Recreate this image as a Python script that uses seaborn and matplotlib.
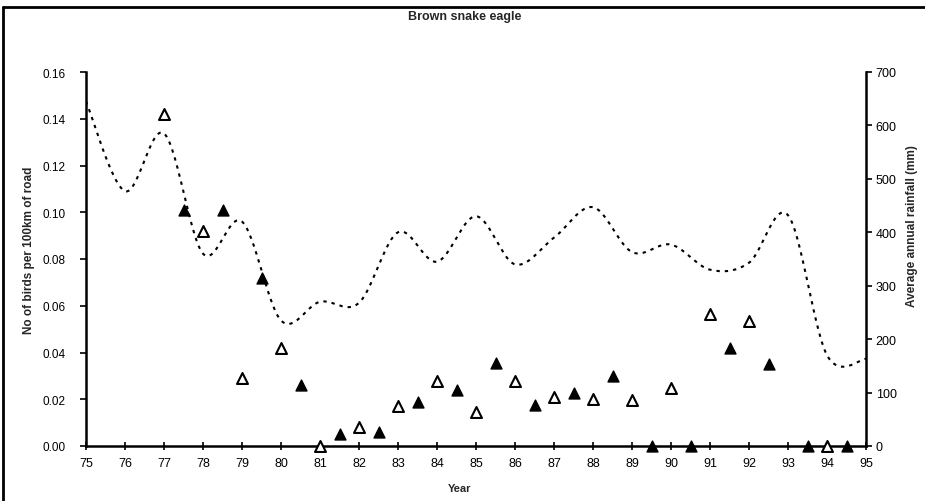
import numpy as np
import matplotlib
matplotlib.use("Agg")
import matplotlib.pyplot as plt
import seaborn as sns
from matplotlib.lines import Line2D

# ---- data ----
rain_years = [75, 76, 77, 78, 79, 80, 81, 82, 83, 84, 85, 86, 87, 88, 89, 90, 91, 92, 93, 94, 95]
rain_mm = [645, 477, 585, 360, 420, 235, 270, 268, 400, 345, 430, 340, 390, 447, 363, 377, 330, 343, 432, 170, 163]

open_years = [77, 78, 79, 80, 81, 82, 83, 84, 85, 86, 87, 88, 89, 90, 91, 92, 94]
open_vals = [0.142, 0.092, 0.029, 0.042, 0.0, 0.008, 0.017, 0.028, 0.0145, 0.028, 0.021,
             0.020, 0.0197, 0.0248, 0.0565, 0.0535, 0.0]

filled_years = [77.5, 78.5, 79.5, 80.5, 81.5, 82.5, 83.5, 84.5, 85.5, 86.5, 87.5, 88.5,
                89.5, 90.5, 91.5, 92.5, 93.5, 94.5]
filled_vals = [0.101, 0.101, 0.072, 0.026, 0.005, 0.006, 0.019, 0.024, 0.0355, 0.0175,
               0.0227, 0.030, 0.0, 0.0, 0.042, 0.035, 0.0, 0.0]

x_ticks = list(range(75, 96))
left_ticks = [0.00, 0.02, 0.04, 0.06, 0.08, 0.10, 0.12, 0.14, 0.16]
right_ticks = [0, 100, 200, 300, 400, 500, 600, 700]


def smooth_line(xs, ys, n=30):
    """Excel-style smoothed line (Bezier through points, tension 1/6)."""
    P = np.column_stack([xs, ys]).astype(float)
    ext = np.vstack([P[0], P, P[-1]])
    out = []
    t = np.linspace(0, 1, n)[:, None]
    for i in range(1, len(ext) - 2):
        p0, p1, p2, p3 = ext[i - 1], ext[i], ext[i + 1], ext[i + 2]
        c1 = p1 + (p2 - p0) / 6.0
        c2 = p2 - (p3 - p1) / 6.0
        seg = ((1 - t) ** 3) * p1 + 3 * ((1 - t) ** 2) * t * c1 + 3 * (1 - t) * t ** 2 * c2 + t ** 3 * p2
        out.append(seg if i == 1 else seg[1:])
    arr = np.vstack(out)
    return arr[:, 0], arr[:, 1]


sns.set_theme(style="white")
plt.rcParams['font.family'] = ['Liberation Sans', 'DejaVu Sans']

W, H = 925, 502
fig = plt.figure(figsize=(W / 100, H / 100), dpi=100)
fig.patch.set_facecolor("white")

L, R, T, B = 86, 866, 73, 447
ax = fig.add_axes([L / W, 1 - B / H, (R - L) / W, (B - T) / H])
ax2 = ax.twinx()

# rainfall smoothed dotted line on secondary axis
sx, sy = smooth_line(rain_years, rain_mm)
sns.lineplot(x=sx, y=sy, ax=ax2, color="black", linewidth=1.5, sort=False,
             estimator=None, linestyle=(0, (1.6, 2.4)), legend=False)

# birds markers on primary axis
sns.scatterplot(x=open_years, y=open_vals, ax=ax, marker="^", s=62, facecolor="white",
                edgecolor="black", linewidth=1.5, clip_on=False, zorder=5, legend=False)
sns.scatterplot(x=filled_years, y=filled_vals, ax=ax, marker="^", s=62, color="black",
                edgecolor="black", linewidth=1.0, clip_on=False, zorder=5, legend=False)

ax.set_zorder(ax2.get_zorder() + 1)
ax.patch.set_visible(False)

ax.set_xlim(75, 95)
ax.set_ylim(0, 0.16)
ax2.set_ylim(0, 700)
ax.set_xticks(x_ticks)
ax.set_xticklabels([str(v) for v in x_ticks])
ax.set_yticks(left_ticks)
ax.set_yticklabels([f"{v:.2f}" for v in left_ticks])
ax2.set_yticks(right_ticks)
ax2.set_yticklabels([str(v) for v in right_ticks])

for a in (ax, ax2):
    for s in a.spines.values():
        s.set_visible(False)
ax.spines["left"].set_visible(True)
ax.spines["bottom"].set_visible(True)
ax2.spines["right"].set_visible(True)
for s in (ax.spines["left"], ax.spines["bottom"], ax2.spines["right"]):
    s.set_linewidth(1.8)
    s.set_color("black")

ax.tick_params(axis="x", direction="inout", length=6, width=1.2, colors="black",
               labelsize=9, pad=5, bottom=True)
ax.tick_params(axis="y", direction="out", length=4, width=1.2, colors="black",
               labelsize=8.5, pad=11, left=True)
ax2.tick_params(axis="y", direction="out", length=4, width=1.2, colors="black",
                labelsize=9, pad=3, right=True)
ax.grid(False)
ax2.grid(False)

ax.set_xlabel("")
ax.set_ylabel("")
ax2.set_ylabel("")

fig.text(465 / W, 1 - 17 / H, "Brown snake eagle", ha="center", va="center",
         fontsize=9, fontweight="bold")
fig.text(460 / W, 1 - 489 / H, "Year", ha="center", va="center", fontsize=8, fontweight="bold")
fig.text(29 / W, 1 - 250 / H, "No of birds per 100km of road", ha="center", va="center",
         rotation=90, fontsize=8.5, fontweight="bold")
fig.text(912 / W, 1 - 226 / H, "Average annual rainfall (mm)", ha="center", va="center",
         rotation=90, fontsize=8.5, fontweight="bold")

# outer chart frame (top and left edges visible in reference)
fig.add_artist(Line2D([3 / W, 1.0], [1 - 8 / H, 1 - 8 / H], transform=fig.transFigure,
                      color="black", linewidth=2))
fig.add_artist(Line2D([3 / W, 3 / W], [0.0, 1 - 8 / H], transform=fig.transFigure,
                      color="black", linewidth=2))

fig.savefig("out.png", dpi=100)
